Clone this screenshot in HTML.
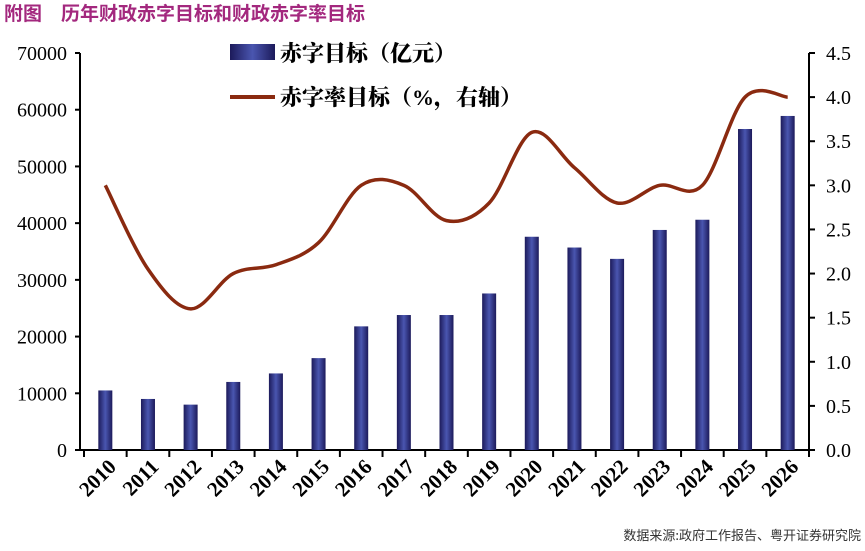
<!DOCTYPE html>
<html><head><meta charset="utf-8"><style>
body{margin:0;background:#fff;width:865px;height:546px;overflow:hidden}
svg text{font-family:"Liberation Serif","Noto Serif CJK SC",serif}
</style></head><body>
<svg width="865" height="546" xmlns="http://www.w3.org/2000/svg">
<defs>
<linearGradient id="bg" x1="0" x2="1" y1="0" y2="0">
<stop offset="0" stop-color="#1c1a5a"/><stop offset="0.5" stop-color="#4a56b0"/><stop offset="1" stop-color="#1c1a5a"/>
</linearGradient>
</defs>
<text x="4" y="20" font-size="19" font-weight="bold" fill="#a3287e" style="font-family:'Liberation Sans','Noto Sans CJK SC',sans-serif">附图　历年财政赤字目标和财政赤字率目标</text>
<g stroke="#000" stroke-width="2" fill="none">
<line x1="80" y1="53" x2="80" y2="451"/>
<line x1="809" y1="53" x2="809" y2="451"/>
<line x1="79" y1="450" x2="810" y2="450"/>
</g>
<g id="content"></g>
<g font-size="22" style="font-family:'Noto Sans CJK SC',sans-serif" font-weight="900">
<rect x="230" y="44" width="45" height="16" fill="url(#bg)"/>
<text x="280" y="61">赤字目标（亿元）</text>
<line x1="230" y1="97" x2="275" y2="97" stroke="#8a2a10" stroke-width="4"/>
<text x="280" y="105">赤字率目标（%，右轴）</text>
</g>
<text x="861" y="540" text-anchor="end" font-size="13" fill="#333" style="font-family:'Noto Sans CJK SC',sans-serif">数据来源:政府工作报告、粤开证券研究院</text>
</svg>
<script>
(function(){
var g=document.getElementById('content');
var ns='http://www.w3.org/2000/svg';
function el(t,a,txt){var e=document.createElementNS(ns,t);for(var k in a)e.setAttribute(k,a[k]);if(txt!==undefined)e.textContent=txt;g.appendChild(e);return e;}
var bars=[10500,9000,8000,12000,13500,16200,21800,23800,23800,27600,37600,35700,33700,38800,40600,56600,58900];
var rate=[3.0,2.05,1.6,2.0,2.1,2.35,3.0,3.0,2.6,2.8,3.6,3.2,2.8,3.0,3.0,4.0,4.0];
var xa=84,xb=809,n=17,cw=(xb-xa)/n,y0=450,yt=53,H=y0-yt;
function yl(v){return y0-v/70000*H;} function yr(v){return y0-v/4.5*H;}
for(var i=0;i<=7;i++){var y=yl(i*10000);el('line',{x1:75,y1:y,x2:80,y2:y,stroke:'#000','stroke-width':2});
el('text',{x:67,y:y+7,'text-anchor':'end','font-size':20},String(i*10000));}
for(var i=0;i<=9;i++){var y=yr(i*0.5);el('line',{x1:809,y1:y,x2:815,y2:y,stroke:'#000','stroke-width':2});
el('text',{x:826,y:y+7,'font-size':20},(i*0.5).toFixed(1));}
var pts=[];
for(var i=0;i<n;i++){var cx=xa+cw*(i+0.5);
el('rect',{x:cx-7,y:yl(bars[i]),width:14,height:y0-yl(bars[i]),fill:'url(#bg)'});
var tx=xa+cw*i;el('line',{x1:tx,y1:450,x2:tx,y2:457,stroke:'#000','stroke-width':2});
el('text',{x:0,y:0,'text-anchor':'end','font-size':21,'font-weight':'bold',transform:'translate('+(cx+12)+',468) rotate(-45)'},String(2010+i));
pts.push([cx,yr(rate[i])]);}
el('line',{x1:xb,y1:450,x2:xb,y2:457,stroke:'#000','stroke-width':2});
var d='M'+pts[0][0]+','+pts[0][1];
for(var i=0;i<n-1;i++){var p0=pts[Math.max(0,i-1)],p1=pts[i],p2=pts[i+1],p3=pts[Math.min(n-1,i+2)];
d+=' C'+(p1[0]+(p2[0]-p0[0])/6)+','+(p1[1]+(p2[1]-p0[1])/6)+' '+(p2[0]-(p3[0]-p1[0])/6)+','+(p2[1]-(p3[1]-p1[1])/6)+' '+p2[0]+','+p2[1];}
el('path',{d:d,fill:'none',stroke:'#8a2a10','stroke-width':3.5});
})();
</script>
</body></html>
